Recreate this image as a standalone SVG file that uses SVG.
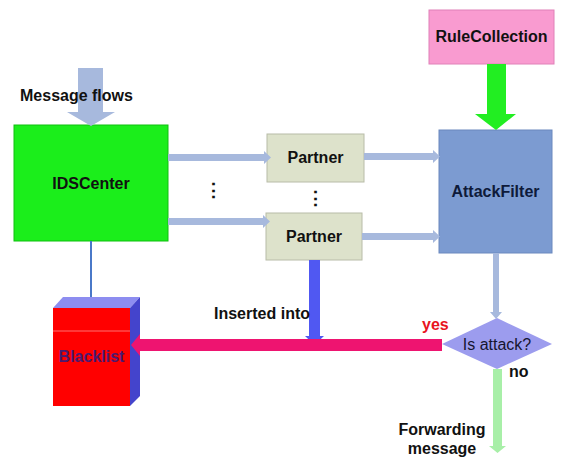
<svg xmlns="http://www.w3.org/2000/svg" width="562" height="459" viewBox="0 0 562 459">
<style>
text{font-family:"Liberation Sans",Arial,sans-serif;font-weight:bold;font-size:16px;fill:#111}
.c{text-anchor:middle}
.flow{fill:#A7B9DD}
.dots{font-size:19px}
</style>
<rect width="562" height="459" fill="#fff"/>
<g id="rulecollection">
  <rect x="429" y="10" width="125" height="54" fill="#F99BD0" stroke="#E080B8" stroke-width="1"/>
  <text class="c" x="491.5" y="42">RuleCollection</text>
</g>
<g id="idscenter">
  <rect x="14" y="125" width="154" height="116" fill="#1BEE1B" stroke="#10C010" stroke-width="1"/>
  <text class="c" x="91" y="189">IDSCenter</text>
</g>
<g id="dots1">
  <text class="c dots" x="213" y="197">⋮</text>
</g>
<g id="partner1">
  <rect x="267" y="134" width="97" height="48" fill="#DDE2CB" stroke="#B8BCA8" stroke-width="1"/>
  <text class="c" x="315.5" y="163">Partner</text>
</g>
<g id="dots2">
  <text class="c dots" x="315" y="205">⋮</text>
</g>
<g id="partner2">
  <rect x="266" y="213" width="96" height="47" fill="#DDE2CB" stroke="#B8BCA8" stroke-width="1"/>
  <text class="c" x="314" y="242">Partner</text>
</g>
<g id="attackfilter">
  <rect x="439" y="130" width="113" height="123" fill="#7C9BD1" stroke="#6A88BE" stroke-width="1"/>
  <text class="c" x="495.5" y="197" style="fill:#0E1A3A">AttackFilter</text>
</g>
<g id="blacklist">
  <polygon points="53,308 63,297 140,297 130,308" fill="#8D8DF0"/>
  <polygon points="130,308 140,297 140,396 130,406" fill="#4444CC"/>
  <rect x="53" y="308" width="77" height="98" fill="#FF0000"/>
  <line x1="53" y1="331" x2="130" y2="331" stroke="#FF7070" stroke-width="1"/>
  <text class="c" x="91.5" y="362" style="fill:#4A1A70">Blacklist</text>
</g>
<g id="isattack">
  <polygon points="442,344 497,318 552,344 497,369" fill="#9C9CEE"/>
  <text class="c" x="497" y="350" style="font-weight:normal;font-size:16px;fill:#15152E">Is attack?</text>
</g>
<g id="connectors">
  <polygon class="flow" points="78,68 103,68 103,112 115,112 91,126 67,112 78,112"/>
  <polygon class="flow" points="168,154 264,154 264,151 271,157.5 264,164 264,161 168,161"/>
  <polygon class="flow" points="168,218 263,218 263,215 270,221.5 263,228 263,225 168,225"/>
  <polygon class="flow" points="364,153 433,153 433,150 440,156.5 433,163 433,160 364,160"/>
  <polygon class="flow" points="362,233 433,233 433,230 440,236.5 433,243 433,240 362,240"/>
  <polygon fill="#22EE22" points="487,64 506,64 506,114 516,114 496,130 475,114 487,114"/>
  <polygon class="flow" points="493,253 499,253 499,312 502,312 496,319 490,312 493,312"/>
  <line x1="91" y1="241" x2="91" y2="297" stroke="#4A78C8" stroke-width="2"/>
  <polygon fill="#5058F2" points="309,260 320,260 320,336 324,336 314.5,345 305,336 309,336"/>
  <polygon fill="#EE1470" points="442,339 442,351 140,351 140,356 131,345 140,334 140,339"/>
  <polygon fill="#A8EFA8" points="493,369 502,369 502,446 506,446 497.5,453 489,446 493,446"/>
</g>
<g id="labels">
  <text x="20" y="101">Message flows</text>
  <text x="214" y="319">Inserted into</text>
  <text x="422" y="330" style="fill:#E8141E">yes</text>
  <text x="509" y="377">no</text>
  <text class="c" x="442" y="435">Forwarding</text>
  <text class="c" x="442" y="454">message</text>
</g>
</svg>
